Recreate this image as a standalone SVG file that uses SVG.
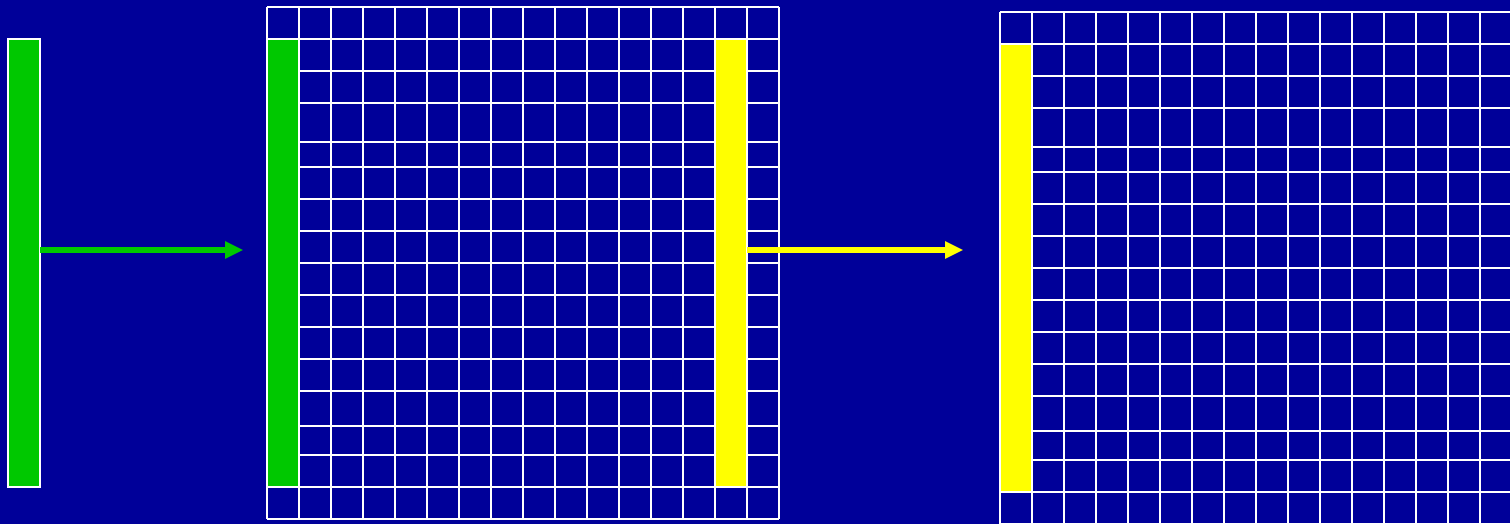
<svg xmlns="http://www.w3.org/2000/svg" width="1510" height="524" viewBox="0 0 1510 524">
  <style>
    .grid { fill: none; stroke: #ffffff; stroke-width: 2; }
    .bar { stroke: #ffffff; stroke-width: 2; }
    .green { fill: #00c800; }
    .yellow { fill: #ffff00; }
    .conn { fill: none; stroke-width: 6; }
  </style>
  <defs>
    <marker id="headG" markerUnits="userSpaceOnUse" markerWidth="18" markerHeight="18" viewBox="0 0 18 18" refX="1" refY="9" orient="auto">
      <path d="M0 0L18 9L0 18Z" fill="#00c800"/>
    </marker>
    <marker id="headY" markerUnits="userSpaceOnUse" markerWidth="18" markerHeight="18" viewBox="0 0 18 18" refX="1" refY="9" orient="auto">
      <path d="M0 0L18 9L0 18Z" fill="#ffff00"/>
    </marker>
  </defs>
  <rect x="0" y="0" width="1510" height="524" fill="#000099"/>

  <g id="input-bar">
    <rect class="bar green" x="8" y="39" width="32" height="448"/>
  </g>

  <g id="middle-grid">
    <path class="grid" d="M267 7V519M299 7V519M331 7V519M363 7V519M395 7V519M427 7V519M459 7V519M491 7V519M523 7V519M555 7V519M587 7V519M619 7V519M651 7V519M683 7V519M715 7V519M747 7V519M779 7V519
      M267 7H779M267 39H779M267 71H779M267 103H779M267 142H779M267 167H779M267 199H779M267 231H779M267 263H779M267 295H779M267 327H779M267 359H779M267 391H779M267 426H779M267 455H779M267 487H779M267 519H779"/>
    <rect class="bar green" x="267" y="39" width="32" height="448"/>
    <rect class="bar yellow" x="715" y="39" width="32" height="448"/>
  </g>

  <g id="right-grid">
    <path class="grid" d="M1000 12V524M1032 12V524M1064 12V524M1096 12V524M1128 12V524M1160 12V524M1192 12V524M1224 12V524M1256 12V524M1288 12V524M1320 12V524M1352 12V524M1384 12V524M1416 12V524M1448 12V524M1480 12V524M1512 12V524
      M1000 12H1512M1000 44H1512M1000 76H1512M1000 108H1512M1000 147H1512M1000 172H1512M1000 204H1512M1000 236H1512M1000 268H1512M1000 300H1512M1000 332H1512M1000 364H1512M1000 396H1512M1000 431H1512M1000 460H1512M1000 492H1512M1000 524H1512"/>
    <rect class="bar yellow" x="1000" y="44" width="32" height="448"/>
  </g>

  <g id="connectors">
    <line class="conn" x1="40" y1="250" x2="226" y2="250" stroke="#00c800" marker-end="url(#headG)"/>
    <line class="conn" x1="747" y1="250" x2="946" y2="250" stroke="#ffff00" marker-end="url(#headY)"/>
  </g>
</svg>
